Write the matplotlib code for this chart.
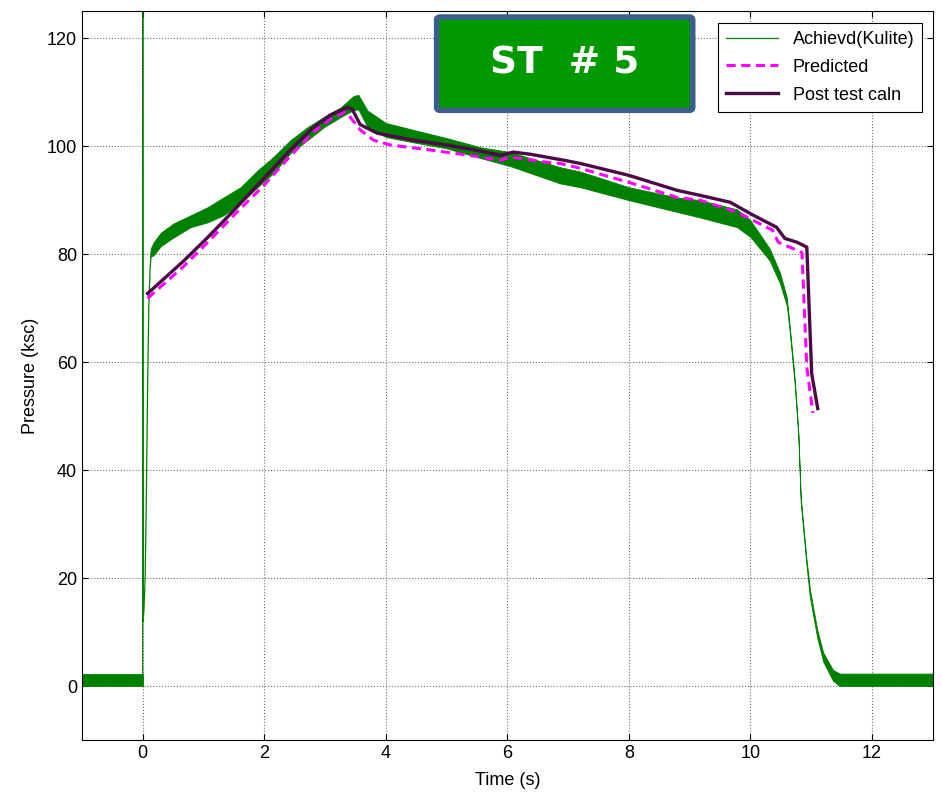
"""Static test #5: chamber pressure from the Kulite transducer against the
predicted trace and the post-test calculation."""
import matplotlib

matplotlib.use("Agg")
import matplotlib.pyplot as plt
from matplotlib.patches import FancyBboxPatch

plt.rcParams["font.family"] = ["Liberation Sans", "DejaVu Sans"]

# Kulite record: noisy band (lower / upper envelope) during the burn and tail-off
band_t = [0.13, 0.18, 0.30, 0.51, 0.79, 1.07, 1.33, 1.61, 1.89, 2.15, 2.43, 2.71,
          2.98, 3.26, 3.47, 3.55, 3.70, 4.00, 4.46, 5.00, 5.56, 6.05, 6.87, 7.20,
          8.00, 8.80, 9.17, 9.78, 10.00, 10.32, 10.49, 10.60, 10.65, 10.73, 10.79,
          10.83, 10.92, 10.98, 11.10, 11.20, 11.36, 11.47, 13.00]
band_lo = [79.5, 79.8, 81.5, 83.1, 85.0, 85.9, 87.2, 89.4, 92.4, 95.0, 98.7, 101.1,
           103.5, 105.4, 106.7, 106.8, 103.5, 101.7, 100.7, 99.6, 97.8, 96.3, 93.1, 92.4,
           90.0, 87.8, 86.8, 85.0, 83.2, 78.8, 74.5, 70.5, 65.5, 56.0, 46.5,
           34.0, 23.0, 16.5, 9.0, 4.5, 1.0, 0.0, 0.0]
band_hi = [81.0, 82.2, 84.0, 85.7, 87.2, 88.7, 90.5, 92.4, 95.5, 98.0, 101.1, 103.5,
           105.4, 107.2, 109.3, 109.5, 106.6, 104.3, 103.0, 101.5, 99.8, 98.9, 96.1, 95.3,
           92.4, 90.5, 90.0, 88.3, 86.3, 81.0, 76.5, 72.0, 66.5, 57.0, 47.0,
           35.0, 24.0, 18.0, 10.5, 6.2, 3.0, 2.3, 2.3]

# baseline before ignition
pre_t = [-1.0, 0.0]
pre_lo = [0.0, 0.0]
pre_hi = [2.3, 2.3]

# ignition spike and pressure rise
rise_t = [-0.005, 0.0, 0.0, 0.005, 0.02, 0.04, 0.06, 0.08, 0.10, 0.12, 0.14]
rise_p = [1.0, 1.0, 135.0, 12.0, 14.0, 20.0, 35.0, 55.0, 70.0, 77.0, 80.3]

# Predicted trace
pred_t = [0.08, 0.68, 1.07, 1.50, 2.00, 2.43, 2.81, 3.09, 3.33, 3.40, 3.58, 3.80,
          4.08, 4.73, 5.56, 5.89, 6.05, 6.66, 6.87, 7.20, 8.00, 8.80, 9.17, 9.78,
          10.37, 10.46, 10.77, 10.85, 10.93, 11.03]
pred_p = [71.8, 77.8, 82.2, 87.2, 92.8, 98.2, 102.6, 105.0, 106.3, 105.6, 103.0, 101.1,
          100.2, 99.3, 98.0, 97.4, 98.0, 97.0, 96.8, 95.9, 93.3, 90.5, 90.0, 87.8,
          84.4, 82.2, 80.7, 80.3, 59.0, 50.6]

# Post test calculation
post_t = [0.08, 0.68, 1.07, 1.50, 2.00, 2.43, 2.81, 3.09, 3.37, 3.45, 3.58, 3.86,
          4.46, 5.01, 5.56, 5.89, 6.10, 6.38, 6.93, 7.20, 8.00, 8.80, 9.17, 9.67,
          10.05, 10.43, 10.57, 10.77, 10.93, 11.01, 11.11]
post_p = [72.7, 78.8, 83.1, 88.1, 94.1, 99.3, 103.5, 105.8, 107.2, 106.8, 104.0, 102.4,
          101.1, 100.2, 99.1, 98.3, 98.9, 98.5, 97.4, 96.8, 94.6, 91.8, 90.9, 89.6,
          87.2, 85.0, 82.9, 82.2, 81.3, 57.9, 51.4]

x_ticks = [0, 2, 4, 6, 8, 10, 12]
y_ticks = [0, 20, 40, 60, 80, 100, 120]

GREEN = "#008000"

fig = plt.figure(figsize=(9.42, 8.0), dpi=100)
ax = fig.add_axes([0.087, 0.075, 0.903, 0.911])

ax.fill_between(pre_t, pre_lo, pre_hi, color=GREEN, lw=0.6)
ax.fill_between(band_t, band_lo, band_hi, color=GREEN, lw=0.6)
ax.plot(rise_t, rise_p, color=GREEN, lw=0.9, label="Achievd(Kulite)")
ax.plot(pred_t, pred_p, color="#ff00ff", lw=2.2, ls="--", dashes=(3, 1.8),
        label="Predicted")
ax.plot(post_t, post_p, color="#4b0a46", lw=2.4, label="Post test caln")

ax.set_xlim(-1, 13)
ax.set_ylim(-10, 125)
ax.set_xticks(x_ticks)
ax.set_yticks(y_ticks)
ax.tick_params(direction="in", top=True, right=True, length=4, labelsize=13)
ax.grid(True, color="#707070", ls=":", lw=0.8)
ax.set_axisbelow(True)
ax.set_xlabel("Time (s)", fontsize=13, labelpad=7)
ax.set_ylabel("Pressure (ksc)", fontsize=13, labelpad=6)

leg = ax.legend(loc="upper right", bbox_to_anchor=(0.988, 0.984), fancybox=False,
                edgecolor="black", framealpha=1, fontsize=13, handlelength=2.9,
                borderaxespad=0, labelspacing=0.6, borderpad=0.45)
leg.get_frame().set_linewidth(0.8)

# test tag
tag = FancyBboxPatch((0.417, 0.864), 0.301, 0.128, transform=ax.transAxes,
                     boxstyle="round,pad=0,rounding_size=0.004",
                     facecolor="#009900", edgecolor="#3b5e8a", lw=4, zorder=5)
ax.add_patch(tag)
ax.text(0.5675, 0.928, "ST  # 5", transform=ax.transAxes, ha="center", va="center",
        color="white", fontsize=27, fontweight="bold", family="DejaVu Sans", zorder=6)

fig.savefig("out.png", dpi=100)
